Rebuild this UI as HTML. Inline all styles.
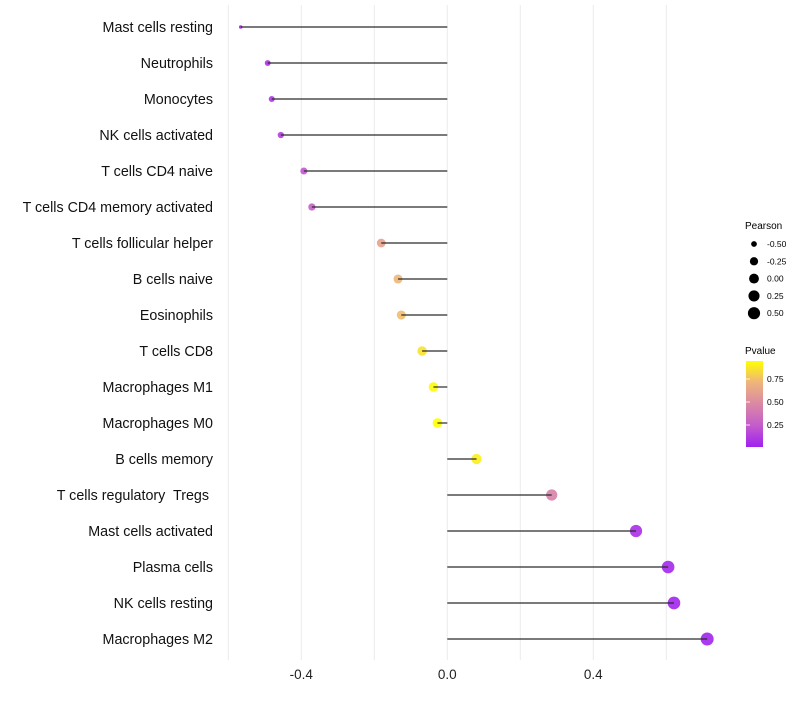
<!DOCTYPE html>
<html><head><meta charset="utf-8"><style>
body{margin:0;background:#fff;font-family:"Liberation Sans",sans-serif}
text{white-space:pre}
</style></head><body>
<svg id="chart" width="800" height="700" xmlns="http://www.w3.org/2000/svg">
<defs><linearGradient id="pg" x1="0" y1="1" x2="0" y2="0">
<stop offset="0" stop-color="#a020f0"/><stop offset="0.25" stop-color="#c45ccc"/><stop offset="0.5" stop-color="#da88a4"/><stop offset="0.75" stop-color="#eeb47c"/><stop offset="1" stop-color="#ffff00"/>
</linearGradient></defs>
<g id="grid"></g><g id="marks"></g><g id="labels"></g>
<g font-size="9" fill="#000">
<text x="745" y="229" font-size="10">Pearson</text>
<g id="sizeleg"></g>
</g>
<g font-size="9">
<text x="745" y="354" font-size="10">Pvalue</text>
<rect x="746" y="361" width="17" height="86" fill="url(#pg)"/>
<g id="colleg"></g>
</g>
</svg>
<script>
const categories=["Mast cells resting","Neutrophils","Monocytes","NK cells activated","T cells CD4 naive","T cells CD4 memory activated","T cells follicular helper","B cells naive","Eosinophils","T cells CD8","Macrophages M1","Macrophages M0","B cells memory","T cells regulatory  Tregs ","Mast cells activated","Plasma cells","NK cells resting","Macrophages M2"];
const pearson=[-0.566,-0.492,-0.481,-0.456,-0.393,-0.371,-0.181,-0.135,-0.126,-0.069,-0.038,-0.027,0.080,0.286,0.517,0.605,0.621,0.712];
const pvalue=[0.04,0.08,0.10,0.13,0.22,0.27,0.62,0.72,0.74,0.86,0.93,0.95,0.90,0.45,0.07,0.04,0.03,0.02];
const xTicks=[-0.4,0.0,0.4];
const xGrid=[-0.6,-0.4,-0.2,0,0.2,0.4,0.6];
const sizeTicks=[-0.5,-0.25,0,0.25,0.5];
const pTicks=[0.25,0.5,0.75];
const NS="http://www.w3.org/2000/svg";
const X=v=>447.3+v*365;
const Y=i=>27+i*36;
const rS=v=>1.8+4.7*Math.sqrt(Math.max(0,(v+0.566)/1.28));
const pMin=0.01,pMax=0.95;
const stops=[[160,32,240],[196,92,204],[218,136,164],[238,180,124],[255,255,0]];
function col(p){let t=Math.min(1,Math.max(0,(p-pMin)/(pMax-pMin)))*4;let i=Math.min(3,Math.floor(t)),f=t-i;
const c=stops[i].map((a,k)=>Math.round(a+(stops[i+1][k]-a)*f));return `rgb(${c})`;}
function mk(tag,a,parent){const e=document.createElementNS(NS,tag);for(const k in a)e.setAttribute(k,a[k]);parent.appendChild(e);return e;}
const grid=document.getElementById('grid'),marks=document.getElementById('marks'),labels=document.getElementById('labels');
xGrid.forEach(v=>{const l=mk('line',{x1:X(v),x2:X(v),y1:5,y2:660,stroke:'#ebebeb','stroke-width':1},grid);

});
xTicks.forEach(v=>{const t=mk('text',{x:X(v),y:679,'text-anchor':'middle','font-size':13.5,fill:'#222'},labels);t.textContent=v.toFixed(1);

});
categories.forEach((c,i)=>{const y=Y(i);
const t=mk('text',{x:213,y:y+5,'text-anchor':'end','font-size':14.3,fill:'#111'},labels);t.textContent=c;


const p=mk('circle',{cx:X(pearson[i]),cy:y,r:rS(pearson[i]),fill:col(pvalue[i]),'fill-opacity':0.9},marks);


const s=mk('line',{x1:X(0),x2:X(pearson[i]),y1:y,y2:y,stroke:'#2a2a2a','stroke-width':1.2},marks);

});
const sl=document.getElementById('sizeleg');
sizeTicks.forEach((v,i)=>{const y=244+i*17.3;
const c=mk('circle',{cx:754,cy:y,r:rS(v),fill:'#000'},sl);


const t=mk('text',{x:767,y:y+3,'font-size':8.5},sl);t.textContent=v.toFixed(2);

});
const cl=document.getElementById('colleg');
pTicks.forEach(v=>{const y=448-v*92;
const l=mk('line',{x1:746,x2:750,y1:y,y2:y,stroke:'#fff','stroke-width':0.8},cl);


const t=mk('text',{x:767,y:y+3,'font-size':8.5},cl);t.textContent=v.toFixed(2);

});
</script>
</body></html>
